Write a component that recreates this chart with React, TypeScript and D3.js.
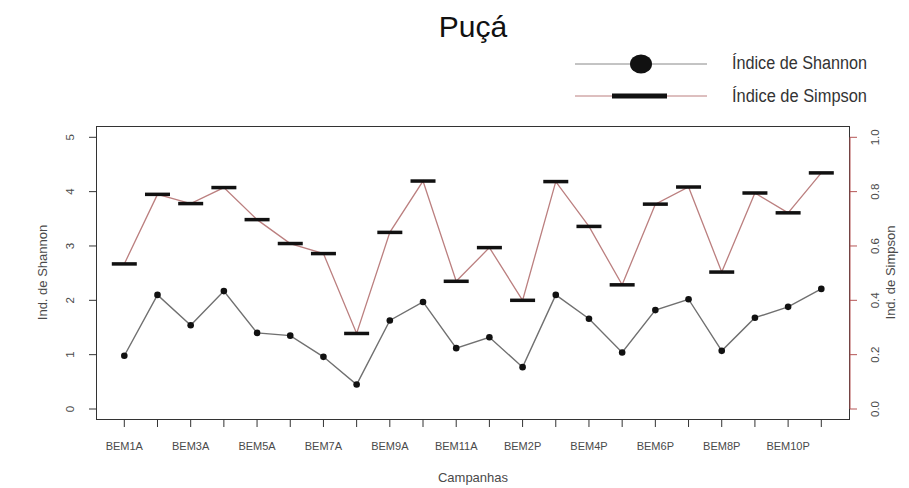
import React from "react";
import * as d3 from "d3";

const categories = [
  "BEM1A", "BEM2A", "BEM3A", "BEM4A", "BEM5A", "BEM6A", "BEM7A", "BEM8A", "BEM9A", "BEM10A", "BEM11A",
  "BEM1P", "BEM2P", "BEM3P", "BEM4P", "BEM5P", "BEM6P", "BEM7P", "BEM8P", "BEM9P", "BEM10P", "BEM11P",
];
const shannon = [0.98, 2.1, 1.54, 2.17, 1.4, 1.35, 0.96, 0.45, 1.63, 1.97, 1.12, 1.32, 0.77, 2.1, 1.66, 1.04, 1.82, 2.02, 1.07, 1.68, 1.88, 2.21];
const simpson = [0.534, 0.79, 0.756, 0.815, 0.697, 0.609, 0.572, 0.278, 0.65, 0.839, 0.47, 0.594, 0.4, 0.837, 0.672, 0.457, 0.754, 0.817, 0.504, 0.795, 0.722, 0.869];
const shannonTicks = [0, 1, 2, 3, 4, 5];
const simpsonTicks = [0, 0.2, 0.4, 0.6, 0.8, 1.0];

const W = 909;
const H = 488;
const box = { left: 96.5, right: 849.5, top: 126.5, bottom: 419.5 };
const FONT = "'Liberation Sans', Arial, sans-serif";
const LABEL = "#4a4a4a";
const SIMPSON_LINE = "#bb7f7f";
const SIMPSON_AXIS = "#b55555";
const SHANNON_LINE = "#707070";

export default function App() {
  const x = d3.scalePoint<string>().domain(categories).range([124.3, 821.3]);
  const yL = d3.scaleLinear().domain([0, 5]).range([409, 137.3]);
  const yR = d3.scaleLinear().domain([0, 1]).range([409, 137.3]);

  const shLine = d3
    .line<number>()
    .x((_, i) => x(categories[i])!)
    .y((d) => yL(d));
  const siLine = d3
    .line<number>()
    .x((_, i) => x(categories[i])!)
    .y((d) => yR(d));

  return (
    <svg
      width={W}
      height={H}
      style={{ position: "absolute", left: 0, top: 0, background: "#fff" }}
      fontFamily={FONT}
    >
      <rect x={0} y={0} width={W} height={H} fill="#fff" />
      {/* title */}
      <text x={473} y={37} textAnchor="middle" fontSize={30} fill="#111">
        Puçá
      </text>

      {/* legend */}
      <line x1={575} x2={707} y1={64} y2={64} stroke="#888" strokeWidth={1} />
      <ellipse cx={641} cy={64} rx={11} ry={9.5} fill="#111" />
      <line x1={575} x2={707} y1={96} y2={96} stroke={SIMPSON_LINE} strokeWidth={1} />
      <rect x={612} y={93.5} width={55} height={5} fill="#111" />
      <text x={732} y={68.5} fontSize={18} fill="#333" textLength={135} lengthAdjust="spacingAndGlyphs">
        Índice de Shannon
      </text>
      <text x={732} y={102} fontSize={18} fill="#333" textLength={135} lengthAdjust="spacingAndGlyphs">
        Índice de Simpson
      </text>

      {/* box */}
      <rect
        x={box.left}
        y={box.top}
        width={box.right - box.left}
        height={box.bottom - box.top}
        fill="none"
        stroke="#333"
        strokeWidth={1}
      />

      {/* left axis */}
      {shannonTicks.map((t) => (
        <g key={"l" + t}>
          <line x1={89} x2={box.left} y1={yL(t)} y2={yL(t)} stroke="#333" />
          <text
            transform={`translate(${74},${yL(t)}) rotate(-90)`}
            textAnchor="middle"
            fontSize={11.5}
            fill={LABEL}
          >
            {t}
          </text>
        </g>
      ))}
      <text transform={`translate(47,${272.5}) rotate(-90)`} textAnchor="middle" fontSize={13} fill={LABEL}>
        Ind. de Shannon
      </text>

      {/* right axis */}
      <line x1={850} x2={850} y1={yR(0)} y2={yR(1)} stroke={SIMPSON_AXIS} />
      {simpsonTicks.map((t) => (
        <g key={"r" + t}>
          <line x1={850} x2={857} y1={yR(t)} y2={yR(t)} stroke={SIMPSON_AXIS} />
          <text
            transform={`translate(${879},${yR(t)}) rotate(-90)`}
            textAnchor="middle"
            fontSize={11.5}
            fill={LABEL}
          >
            {t.toFixed(1)}
          </text>
        </g>
      ))}
      <text transform={`translate(895,${272.5}) rotate(-90)`} textAnchor="middle" fontSize={13} fill={LABEL}>
        Ind. de Simpson
      </text>

      {/* x axis */}
      {categories.map((c, i) => (
        <g key={c}>
          <line x1={x(c)} x2={x(c)} y1={box.bottom} y2={427} stroke="#333" />
          {i % 2 === 0 && (
            <text x={x(c)} y={450} textAnchor="middle" fontSize={11} fill={LABEL}>
              {c}
            </text>
          )}
        </g>
      ))}
      <text x={473} y={482} textAnchor="middle" fontSize={13} fill={LABEL}>
        Campanhas
      </text>

      {/* Simpson */}
      <path d={siLine(simpson) || ""} fill="none" stroke={SIMPSON_LINE} strokeWidth={1.3} />
      {simpson.map((v, i) => (
        <rect
          key={"s" + i}
          x={x(categories[i])! - 12.5}
          y={yR(v) - 1.75}
          width={25}
          height={3.5}
          fill="#111"
        />
      ))}

      {/* Shannon */}
      <path d={shLine(shannon) || ""} fill="none" stroke={SHANNON_LINE} strokeWidth={1.4} />
      {shannon.map((v, i) => (
        <circle key={"h" + i} cx={x(categories[i])} cy={yL(v)} r={3.3} fill="#111" />
      ))}
    </svg>
  );
}
